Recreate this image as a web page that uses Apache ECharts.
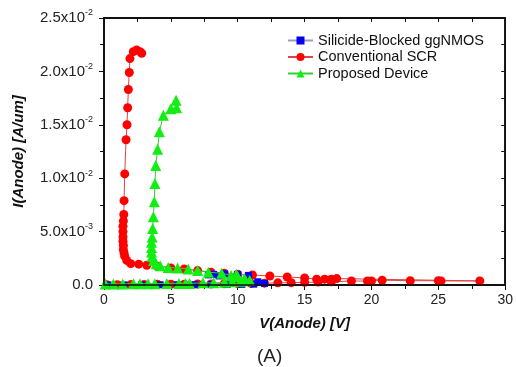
<!DOCTYPE html>
<html><head><meta charset="utf-8">
<script src="https://cdn.jsdelivr.net/npm/echarts@6/dist/echarts.min.js"></script>
<style>html,body{margin:0;padding:0;background:#fff}#c{width:516px;height:367px}#err{position:absolute;left:0;bottom:0;font:9px monospace;color:#c00;max-width:250px}</style>
</head><body><div id="c"></div><div id="err"></div>
<script>
window.onerror = function(m){ document.getElementById('err').textContent += ' ERR:' + m; };
// values: [V(Anode) in V, I(Anode) in units of 1e-3 A/um]
var xTicks = [0, 5, 10, 15, 20, 25, 30];
var yTickLabels = [['0.0',''],['5.0x10','-3'],['1.0x10','-2'],['1.5x10','-2'],['2.0x10','-2'],['2.5x10','-2']];
var seriesNames = ['Silicide-Blocked ggNMOS','Conventional SCR','Proposed Device'];

var ggnmos = [[0.3,0.01],[1.5,0.01],[2.8,0.02],[4.2,0.02],[5.5,0.03],[6.8,0.03],[8.0,0.04],[9.2,0.05],[10.3,0.06],[11.2,0.08],[12.0,0.15],[11.5,0.3],[10.8,0.45],[9.5,0.7],[8.6,0.85],[7.8,0.95],[8.2,1.0],[9.0,1.05],[10.0,1.0],[10.8,0.9]];

var scr = [[0.2,0.02],[1.0,0.03],[2.0,0.04],[3.0,0.05],[4.0,0.06],[5.0,0.07],[6.0,0.08],[7.0,0.09],[8.0,0.1],[9.0,0.12],[10.0,0.13],[11.0,0.15],[12.0,0.17],[13.0,0.2],[14.0,0.22],[15.0,0.25],[16.0,0.27],[17.0,0.3],[18.5,0.37],[19.7,0.37],[20.0,0.37],[20.8,0.45],[22.9,0.4],[25.0,0.4],[25.2,0.38],[28.1,0.38],
  [17.4,0.6],[17.0,0.55],[16.5,0.55],[15.9,0.55],[15.0,0.66],[13.7,0.75],[12.4,0.84],[11.1,0.94],
  [10.0,1.0],[9.0,1.1],[8.0,1.2],[7.0,1.35],[6.0,1.5],[5.0,1.6],[4.0,1.75],[3.2,1.85],[2.6,1.95],[2.0,2.0],[1.7,2.3],[1.55,2.7],[1.5,3.0],[1.45,3.3],[1.45,3.7],[1.42,4.1],[1.42,4.5],[1.42,5.0],[1.42,5.5],[1.45,6.0],[1.48,6.6],[1.5,7.9],[1.55,10.4],[1.65,13.6],[1.72,15.0],[1.77,16.6],[1.82,18.3],[1.89,19.9],[1.94,21.2],[2.19,21.85],[2.44,22.0],[2.69,21.85],[2.82,21.7]];

var proposed = [[0.1,0.1],[0.7,0.1],[1.4,0.1],[2.2,0.12],[2.7,0.12],[3.3,0.12],[3.8,0.12],[4.7,0.15],[5.6,0.15],[6.1,0.15],[6.4,0.15],[7.4,0.2],[8.2,0.2],[9.0,0.25],[9.6,0.3],[10.2,0.35],[10.6,0.4],[10.9,0.45],
  [10.5,0.6],[10.0,0.8],[9.9,1.0],[9.5,0.9],[8.8,1.1],[7.8,1.2],[7.0,1.35],[6.3,1.5],[5.5,1.6],[4.8,1.65],[4.2,1.8],[3.9,2.0],[3.7,2.3],[3.6,2.7],[3.55,3.1],[3.55,3.5],[3.55,4.0],[3.6,4.5],[3.64,5.3],[3.69,6.4],[3.76,7.8],[3.81,9.5],[3.87,11.2],[4.01,12.7],[4.14,14.35],[4.44,15.9],[4.99,16.5],[5.43,16.6],[5.39,17.3]];

var FONT = '"Liberation Sans", Arial, sans-serif';
var chart = echarts.init(document.getElementById('c'), null, {renderer:'canvas'});
var AX = '#111';
var xMain = {type:'value', position:'bottom', min:0, max:30, interval:5,
  axisLine:{show:true, onZero:false, lineStyle:{color:AX, width:1.5}}, splitLine:{show:false},
  axisTick:{show:true, length:5, lineStyle:{color:AX, width:1}},
  minorTick:{show:true, splitNumber:2, length:4, lineStyle:{color:AX, width:1}},
  axisLabel:{color:'#222', fontSize:14, fontFamily:FONT, margin:8,
    formatter:function(v){return xTicks.indexOf(v)>=0 ? String(v) : '';}},
  name:'V(Anode) [V]', nameLocation:'middle', nameGap:31,
  nameTextStyle:{fontSize:15, fontWeight:'bold', fontStyle:'italic', color:'#111', fontFamily:FONT}};
var yMain = {type:'value', position:'left', min:0, max:25, interval:5,
  axisLine:{show:true, onZero:false, lineStyle:{color:AX, width:1.5}}, splitLine:{show:false},
  axisTick:{show:true, length:5, lineStyle:{color:AX, width:1}},
  minorTick:{show:true, splitNumber:2, length:4, lineStyle:{color:AX, width:1}},
  axisLabel:{margin:11, fontFamily:FONT,
    formatter:function(v){var t=yTickLabels[Math.round(v/5)]; return '{a|'+t[0]+'}'+(t[1]?'{s|'+t[1]+'}':'');},
    rich:{a:{fontSize:15, color:'#222', fontFamily:FONT}, s:{fontSize:9, color:'#222', fontFamily:FONT, padding:[0,0,10,0]}}},
  name:'I(Anode) [A/um]', nameLocation:'middle', nameGap:78,
  nameTextStyle:{fontSize:15, fontWeight:'bold', fontStyle:'italic', color:'#111', fontFamily:FONT}};
// mirrored frame axes (top/right), simple options
var xTop = {type:'value', position:'top', min:0, max:30, interval:2.5,
  axisLine:{show:true, onZero:false, lineStyle:{color:AX, width:1.5}},
  axisTick:{show:true, inside:true, length:4, lineStyle:{color:AX, width:1}},
  axisLabel:{show:false}, splitLine:{show:false}};
var yRight = {type:'value', position:'right', min:0, max:25, interval:2.5,
  axisLine:{show:true, onZero:false, lineStyle:{color:AX, width:1.5}},
  axisTick:{show:true, inside:true, length:4, lineStyle:{color:AX, width:1}},
  axisLabel:{show:false}, splitLine:{show:false}};

var titleText = {type:'text', left:257, top:347, style:{text:'(A)', fontSize:19, fill:'#222', fontFamily:FONT}};
try {
chart.setOption({
  animation:false,
  grid:{left:104, right:10, top:18, bottom:82, show:true, borderColor:AX, borderWidth:1.5, backgroundColor:'rgba(0,0,0,0)'},
  xAxis:[xMain, xTop],
  yAxis:[yMain, yRight],
  legend:{orient:'vertical', left:282, top:28, itemWidth:25, itemHeight:10, itemGap:1.5,
    textStyle:{fontSize:14.5, color:'#111', fontFamily:FONT}, data:seriesNames},
  series:[
    {name:seriesNames[1], type:'line', data:scr, symbol:'circle', symbolSize:9,
      itemStyle:{color:'#ff0000'}, lineStyle:{color:'#dd4444', width:1}, z:2},
    {name:seriesNames[0], type:'line', data:ggnmos, symbol:'rect', symbolSize:7,
      itemStyle:{color:'#0000ee'}, lineStyle:{color:'#9999cc', width:1}, z:3},
    {name:seriesNames[2], type:'line', xAxisIndex:1, yAxisIndex:1, data:proposed, symbol:'triangle', symbolSize:11,
      itemStyle:{color:'#11ee11'}, lineStyle:{color:'#33cc33', width:1}, z:4}
  ],
  graphic:[titleText]
});
} catch (e) { document.getElementById('err').textContent += ' SET:' + e; }
// fallback frame, located through the chart's own axis scales
try {
  var f = {xAxisIndex:0, yAxisIndex:0};
  var a = chart.convertToPixel(f, [0, 0]);
  var b = chart.convertToPixel(f, [30, 25]);
  if (a && b) {
    chart.setOption({graphic:[titleText,
      {type:'rect', z:100, silent:true,
       shape:{x:Math.min(a[0],b[0]), y:Math.min(a[1],b[1]), width:Math.abs(b[0]-a[0]), height:Math.abs(a[1]-b[1])},
       style:{fill:null, stroke:AX, lineWidth:1.5}}]});
  } else {
    document.getElementById('err').textContent += ' noPix';
  }
} catch (e) { document.getElementById('err').textContent += ' PIX:' + e; }
</script></body></html>
